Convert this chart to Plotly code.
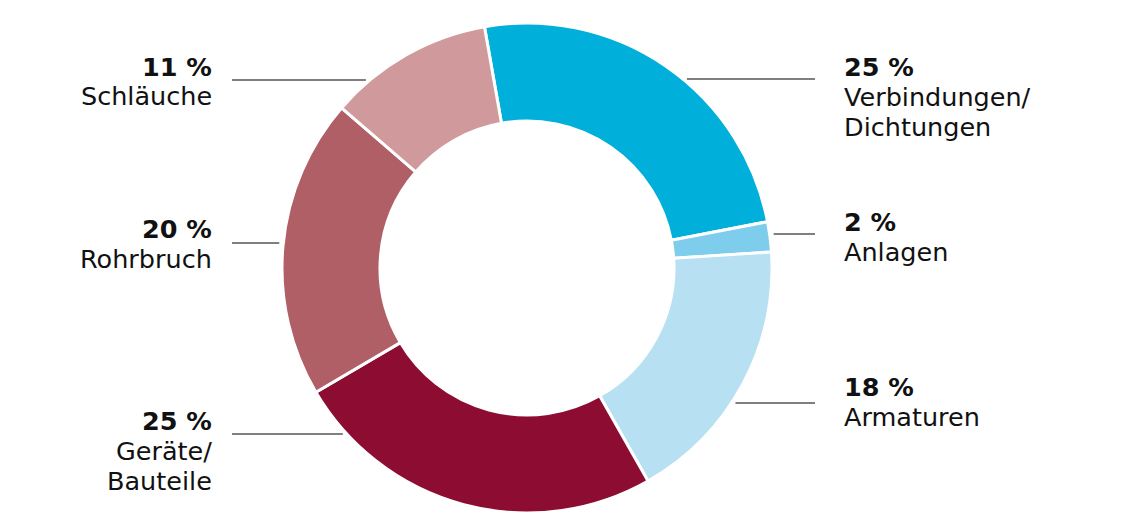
import math
import plotly.graph_objects as go

categories = ["Verbindungen/<br>Dichtungen", "Anlagen", "Armaturen", "Geräte/<br>Bauteile", "Rohrbruch", "Schläuche"]
values = [25, 2, 18, 25, 20, 11]
colors = ["#00b0da", "#7ecdec", "#b8e0f3", "#8c0d31", "#b15f67", "#d09a9c"]
# label placement (screen pixels): side, leader-line y, centre of first text line
label_side = ["right", "right", "right", "left", "left", "left"]
line_y_px = [79, 234, 403, 434, 243, 80]
text_y_px = [67, 222, 387, 421, 229, 66.5]

W, H = 1125, 531
OFF = 8  # page body margin
cx, cy, R = 527 - OFF, 268 - OFF, 245
ROT = -10
LINE_H = 30

fig = go.Figure(go.Pie(
    labels=[c.replace("<br>", " ") for c in categories],
    values=values,
    marker=dict(colors=colors, line=dict(color="white", width=3)),
    hole=0.6,
    sort=False,
    direction="clockwise",
    rotation=ROT,
    textinfo="none",
    hoverinfo="label+percent",
    domain=dict(x=[(cx - R) / W, (cx + R) / W], y=[(H - cy - R) / H, (H - cy + R) / H]),
    showlegend=False,
))

shapes = []
annotations = []
gap = 4
font_family = "DejaVu Sans, Open Sans, sans-serif"
for cat, v, side, ly, ty in zip(categories, values, label_side, line_y_px, text_y_px):
    ly -= OFF
    ty -= OFF
    dy = ly - cy
    half = math.sqrt(max(R * R - dy * dy, 0))
    if side == "right":
        x0, x1 = cx + half + gap, 815 - OFF
        ax, xanchor = 843 - OFF, "left"
    else:
        x0, x1 = 232 - OFF, cx - half - gap
        ax, xanchor = 213 - OFF, "right"
    shapes.append(dict(type="line", xref="paper", yref="paper",
                       x0=x0 / W, x1=x1 / W, y0=1 - ly / H, y1=1 - ly / H,
                       line=dict(color="#555555", width=1.5)))
    lines = [f"<b>{v} %</b>"] + cat.split("<br>")
    for i, t in enumerate(lines):
        annotations.append(dict(
            text=t,
            xref="paper", yref="paper", x=ax / W, y=1 - (ty + i * LINE_H) / H,
            xanchor=xanchor, yanchor="middle", align=xanchor, borderpad=0,
            showarrow=False,
            font=dict(family=font_family, size=25.5, color="#111111"),
        ))

fig.update_layout(
    width=W, height=H,
    margin=dict(l=0, r=0, t=0, b=0),
    paper_bgcolor="white", plot_bgcolor="white",
    shapes=shapes, annotations=annotations,
)
fig.write_html("out.html")
